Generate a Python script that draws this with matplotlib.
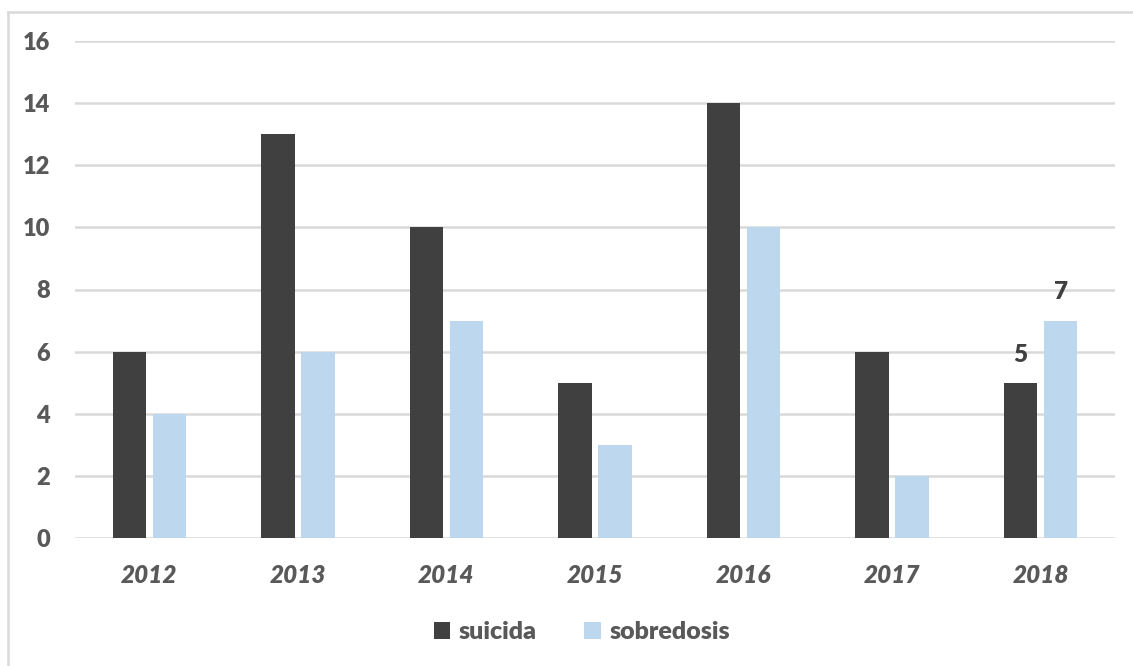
import matplotlib
matplotlib.use("Agg")
import matplotlib.pyplot as plt
from matplotlib.lines import Line2D
import numpy as np

years = ["2012", "2013", "2014", "2015", "2016", "2017", "2018"]
suicida = [6, 13, 10, 5, 14, 6, 5]
sobredosis = [4, 6, 7, 3, 10, 2, 7]
series_names = ["suicida", "sobredosis"]
yticks = [0, 2, 4, 6, 8, 10, 12, 14, 16]

plt.rcParams['font.family'] = ['Lato', 'DejaVu Sans']
W, H = 1133, 666
fig = plt.figure(figsize=(W / 100, H / 100), dpi=100)
ax = fig.add_axes([75 / W, 1 - 538 / H, 1040 / W, 497 / H])

dark = "#404040"
light = "#bdd7ee"
txt = "#595959"
x = np.arange(len(years))
bw = 0.225
off = 0.135
ax.bar(x - off, suicida, bw, color=dark, label=series_names[0], zorder=3)
ax.bar(x + off, sobredosis, bw, color=light, label=series_names[1], zorder=3)

ax.set_xlim(-0.5, len(years) - 0.5)
ax.set_ylim(0, 16)
ax.set_yticks(yticks)
ax.set_yticklabels([str(v) for v in yticks], fontsize=17, fontweight='heavy', color=txt)
ax.set_xticks(x)
ax.set_xticklabels(years, fontsize=17.5, fontweight='heavy', fontstyle='italic', color=txt)
ax.tick_params(axis='y', length=0, pad=18)
ax.tick_params(axis='x', length=0, pad=19)
ax.grid(axis='y', color="#d9d9d9", linewidth=1.8, zorder=0)
for s in ax.spines.values():
    s.set_visible(False)

# data labels for last year
i = len(years) - 1
ax.text(x[i] - off, suicida[i] + 0.55, str(suicida[i]), ha='center', va='bottom',
        fontsize=17.5, fontweight='heavy', color=dark)
ax.text(x[i] + off, sobredosis[i] + 0.55, str(sobredosis[i]), ha='center', va='bottom',
        fontsize=17.5, fontweight='heavy', color=dark)

leg = ax.legend(loc='center', bbox_to_anchor=((582 - 75) / 1040, (538 - 632) / 497), ncol=2,
                frameon=False, prop={'size': 18, 'weight': 'heavy'}, handlelength=0.65,
                handleheight=0.65, handletextpad=0.35, columnspacing=1.9)
for t in leg.get_texts():
    t.set_color(txt)

# outer frame (top and left edges visible)
fig.add_artist(Line2D([8 / W, 8 / W], [0, 1 - 12 / H], transform=fig.transFigure,
                      color="#d9d9d9", linewidth=1.8))
fig.add_artist(Line2D([8 / W, 1], [1 - 12 / H, 1 - 12 / H], transform=fig.transFigure,
                      color="#d9d9d9", linewidth=1.8))

fig.savefig("out.png", dpi=100, facecolor='white')
